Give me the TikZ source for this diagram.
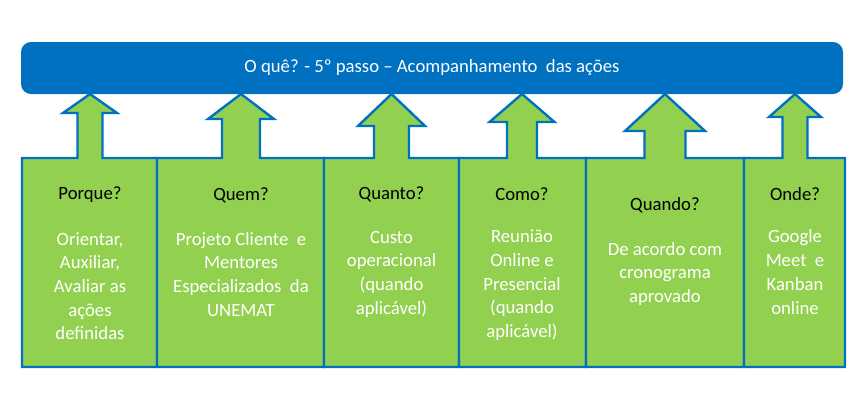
\documentclass[tikz,border=0pt]{standalone}
\usepackage{fontspec}
\setmainfont{Carlito}
\usetikzlibrary{positioning}
\definecolor{barblue}{HTML}{0070C0}
\definecolor{boxgreen}{HTML}{92D050}

\begin{document}
\begin{tikzpicture}[
        x=1pt,
        y=-1pt,
        node distance=29pt,
        bar/.style={
            rectangle,
            fill=barblue,
            rounded corners=10pt,
            minimum width=822pt,
            minimum height=52pt,
            text=white,
            font=\fontsize{18.7}{23.7}\selectfont
        },
        callout/.style={
            draw=barblue,
            fill=boxgreen,
            line width=2.4pt,
            line join=miter
        },
        question/.style={
            text=black,
            inner sep=0pt,
            font=\fontsize{18.7}{23.7}\selectfont
        },
        answer/.style={
            text=white,
            align=center,
            inner sep=0pt,
            font=\fontsize{18.7}{23.7}\selectfont
        }
    ]
        \useasboundingbox (0,0) rectangle (867,410);

        % Callouts
        \draw [callout] (22,367) -- (22,158) -- (77.5,158) -- (77.5,113) -- (63,113) -- (90,94) -- (117,113) -- (102.5,113) -- (102.5,158) -- (157,158) -- (157,367) -- cycle;
        \draw [callout] (157,367) -- (157,158) -- (222,158) -- (222,119) -- (208,119) -- (241,94) -- (274,119) -- (260,119) -- (260,158) -- (324,158) -- (324,367) -- cycle;
        \draw [callout] (324,367) -- (324,158) -- (374,158) -- (374,126) -- (358,126) -- (391.5,94) -- (425,126) -- (409,126) -- (409,158) -- (459,158) -- (459,367) -- cycle;
        \draw [callout] (459,367) -- (459,158) -- (507,158) -- (507,122) -- (489.5,122) -- (522,94) -- (554.5,122) -- (537,122) -- (537,158) -- (586,158) -- (586,367) -- cycle;
        \draw [callout] (586,367) -- (586,158) -- (644.5,158) -- (644.5,131) -- (625,131) -- (665,94) -- (705,131) -- (685.5,131) -- (685.5,158) -- (744,158) -- (744,367) -- cycle;
        \draw [callout] (744,367) -- (744,158) -- (782.5,158) -- (782.5,117) -- (769,117) -- (795,94) -- (821,117) -- (807.5,117) -- (807.5,158) -- (845,158) -- (845,367) -- cycle;

        % Nodes
        \node [bar] (oque) at (432,68) {O quê? - 5º passo – Acompanhamento\ \ das ações};

        \node [question] (porque) at (90,195) {Porque?};
        \node [question] (quem) at (241,195) {Quem?};
        \node [question] (quanto) at (391.5,194) {Quanto?};
        \node [question] (como) at (522,194) {Como?};
        \node [question] (quando) at (665,205) {Quando?};
        \node [question] (onde) at (795,194) {Onde?};

        \node [answer, below=of porque] (porquetxt) {Orientar,\\Auxiliar,\\Avaliar as\\ações\\definidas};
        \node [answer, below=of quem] (quemtxt) {Projeto Cliente\ \ e\\Mentores\\Especializados\ \ da\\UNEMAT};
        \node [answer, below=of quanto] (quantotxt) {Custo\\operacional\\(quando\\aplicável)};
        \node [answer, below=of como] (comotxt) {Reunião\\Online e\\Presencial\\(quando\\aplicável)};
        \node [answer, below=of quando] (quandotxt) {De acordo com\\cronograma\\aprovado};
        \node [answer, below=of onde] (ondetxt) {Google\\Meet\ \ e\\Kanban\\online};

    \end{tikzpicture}
\end{document}
